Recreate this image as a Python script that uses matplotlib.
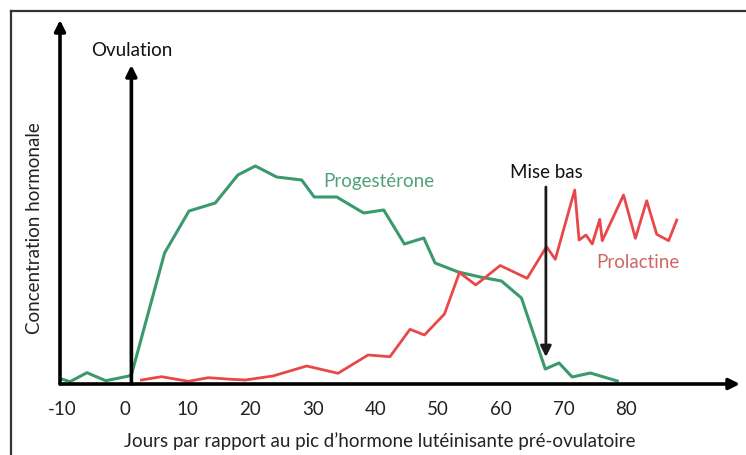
import matplotlib
matplotlib.use("Agg")
import matplotlib.pyplot as plt
from matplotlib.lines import Line2D

plt.rcParams['font.family'] = ['Lato', 'DejaVu Sans']

# Progestérone (jours, concentration en unités arbitraires)
prog_jours = [-10.0, -8.8, -6.1, -3.1, 0.4, 1.0, 6.3, 10.2, 14.4, 18.0, 20.8, 24.2,
              28.2, 30.2, 33.8, 38.1, 41.3, 44.6, 47.7, 49.5, 53.2, 56.7, 60.1,
              63.3, 67.1, 69.3, 71.4, 74.3, 78.6]
prog_conc = [4.7, 2.3, 11.3, 3.3, 7.7, 9, 131, 173, 181, 209, 218, 207,
             204, 187, 187, 171, 174, 140, 146, 121, 112, 107, 103,
             86, 15, 21, 7, 11, 3]

# Prolactine
prl_jours = [2.6, 5.8, 10.1, 13.3, 17.0, 19.2, 23.6, 29.0, 34.0, 38.8, 42.3, 45.5,
             47.8, 51.0, 53.4, 56.0, 59.9, 64.2, 67.3, 68.7, 71.8, 72.5, 73.6,
             74.6, 75.8, 76.2, 79.6, 81.5, 83.3, 84.9, 86.8, 88.1]
prl_conc = [4, 7.3, 2.7, 6.3, 4.7, 4, 8, 18, 10.7, 29, 27.3, 54.7,
            49, 70, 111.5, 99, 118.5, 105.7, 137.3, 124.7, 194, 144, 149,
            140, 164.7, 143.3, 189, 145.7, 183.3, 149.7, 143.3, 164]

ticks = [-10, 0, 10, 20, 30, 40, 50, 60, 70, 80]
jour_ovulation = 1.0
jour_mise_bas = 67.2

vert = '#3a9a6e'
rouge = '#e8484a'

W, H = 746, 455
fig = plt.figure(figsize=(W / 100, H / 100), dpi=100)
ax = fig.add_axes([60 / W, (H - 384) / H, 680 / W, 364 / H])
ax.set_xlim(-10.4, 98.2)
ax.set_ylim(0, 364)
for s in ax.spines.values():
    s.set_visible(False)
ax.set_yticks([])
ax.set_xticks(ticks)
ax.set_xticklabels([str(t) for t in ticks])
ax.tick_params(axis='x', length=0, pad=12, labelsize=13.5, labelcolor='#222222')

# axes fléchés
fleche = dict(arrowstyle='-|>', lw=2.6, color='black', mutation_scale=16,
              shrinkA=0, shrinkB=0)
ax.annotate('', xy=(-10.4, 364), xytext=(-10.4, 0), arrowprops=fleche, annotation_clip=False)
ax.annotate('', xy=(98.2, 0), xytext=(-10.4, 0), arrowprops=fleche, annotation_clip=False)

# courbes
ax.plot(prog_jours, prog_conc, color=vert, lw=2.2, clip_on=False)
ax.plot(prl_jours, prl_conc, color=rouge, lw=2.0, clip_on=False)

# ovulation
ax.annotate('', xy=(jour_ovulation, 319), xytext=(jour_ovulation, 0), arrowprops=fleche)
ax.text(jour_ovulation, 333, 'Ovulation', ha='center', va='center', fontsize=13.5, color='#111111')

# mise bas
ax.annotate('', xy=(jour_mise_bas, 27), xytext=(jour_mise_bas, 197),
            arrowprops=dict(arrowstyle='-|>', lw=2.0, color='#1a1a1a', mutation_scale=16,
                            shrinkA=0, shrinkB=0))
ax.text(jour_mise_bas, 212, 'Mise bas', ha='center', va='center', fontsize=13.5, color='#111111')

ax.text(40.5, 202, 'Progestérone', ha='center', va='center', fontsize=13.5, color='#4fa27c')
ax.text(81.9, 122, 'Prolactine', ha='center', va='center', fontsize=13.5, color='#d06565')

fig.text(35 / W, 1 - 228 / H, 'Concentration hormonale', rotation=90, ha='center', va='center',
         fontsize=13.5, color='#222222')
fig.text(380 / W, 1 - 441 / H, "Jours par rapport au pic d\u2019hormone lutéinisante pré-ovulatoire",
         ha='center', va='center', fontsize=13.5, color='#222222')

# cadre
fig.add_artist(Line2D([11 / W, 11 / W], [0, 1 - 11 / H], color='#333333', lw=1.6))
fig.add_artist(Line2D([11 / W, 1], [1 - 11 / H, 1 - 11 / H], color='#333333', lw=1.6))

fig.savefig('out.png', dpi=100)
